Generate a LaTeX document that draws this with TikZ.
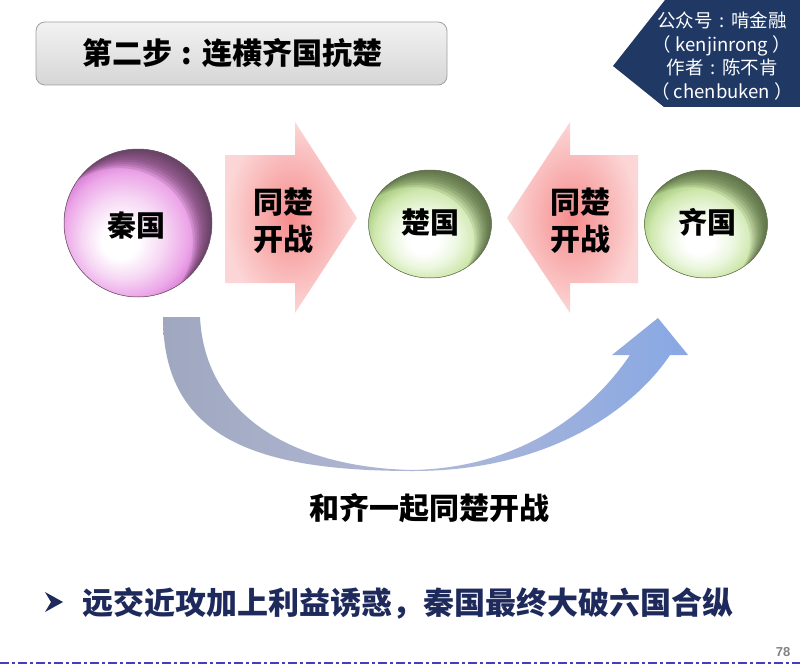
\documentclass[tikz,border=0pt]{standalone}
\usepackage{fontspec}
\usetikzlibrary{shapes.geometric}
\newfontfamily\cjk{Noto Sans CJK SC}
\definecolor{navy}{RGB}{31,56,100}
\definecolor{bulletnavy}{RGB}{31,42,92}
\definecolor{qinA}{RGB}{246,214,244}
\definecolor{qinB}{RGB}{236,166,232}
\definecolor{qinC}{RGB}{216,128,212}
\definecolor{qinD}{RGB}{60,44,56}
\definecolor{grA}{RGB}{234,246,220}
\definecolor{grB}{RGB}{206,231,172}
\definecolor{grC}{RGB}{172,206,134}
\definecolor{grD}{RGB}{56,66,44}
\definecolor{pinkin}{RGB}{245,140,140}
\definecolor{pinkout}{RGB}{252,214,214}
\definecolor{curveL}{RGB}{160,168,192}
\definecolor{curveM}{RGB}{176,184,214}
\definecolor{curveR}{RGB}{136,168,228}
\definecolor{dashblue}{RGB}{64,64,190}
\pgfdeclareradialshading{qinshade}{\pgfpoint{-7bp}{-7bp}}{%
  color(0bp)=(white); color(6bp)=(white); color(14bp)=(qinA);
  color(21bp)=(qinB); color(25bp)=(qinC); color(50bp)=(qinC)}
\pgfdeclareradialshading{greenshade}{\pgfpoint{-3bp}{-9bp}}{%
  color(0bp)=(white); color(6bp)=(white); color(14bp)=(grA);
  color(21bp)=(grB); color(25bp)=(grC); color(50bp)=(grC)}
\tikzset{
  cjktext/.style={font=\cjk\bfseries\fontsize{30}{37}\selectfont, text=black, align=center, inner sep=0pt},
  balltext/.style={cjktext, font=\cjk\bfseries\fontsize{29}{34}\selectfont},
  qinball/.style={circle, minimum size=148pt, shading=qinshade},
  greenball/.style={ellipse, minimum width=123pt, minimum height=108pt, shading=greenshade},
  pinkarrow/.style={shading=radial, inner color=pinkin, outer color=pinkout},
  rimqin/.style={draw={rgb,255:red,110;green,80;blue,105}, line width=0.5pt},
  rimgreen/.style={draw={rgb,255:red,95;green,110;blue,75}, line width=0.5pt},
}
\newcommand{\mycolon}{\makebox[1em][c]{:}}
\begin{document}
\begin{tikzpicture}[x=1pt,y=-1pt]
\useasboundingbox (0,0) rectangle (800,666);
\fill[white] (0,0) rectangle (800,666);

% title box
\node[draw={rgb,255:red,160;green,160;blue,160}, line width=0.8pt, rounded corners=9pt,
      minimum width=411pt, minimum height=63pt,
      top color={rgb,255:red,242;green,242;blue,242}, bottom color={rgb,255:red,214;green,214;blue,214}]
      (titlebox) at (241.5,53.5) {};
\node[cjktext] (title) at (232,53) {第二步\mycolon 连横齐国抗楚};

% badge
\fill[navy] (665,0) -- (800,0) -- (800,107) -- (664,107) -- (613,66) -- cycle;
\node[font=\cjk\fontsize{18.5}{23.5}\selectfont, text=white, align=center, inner sep=0pt] (badge) at (722,56)
  {公众号\mycolon 啃金融\\（ kenjinrong ）\\作者\mycolon 陈不肯\\（ chenbuken ）};

% pink arrows
\shade[pinkarrow] (225,155) -- (295,155) -- (295,122) -- (357,218) -- (295,313) -- (295,283) -- (225,283) -- cycle;
\shade[pinkarrow] (638,155) -- (570,155) -- (570,122) -- (507,218) -- (570,313) -- (570,283) -- (638,283) -- cycle;
\node[cjktext] (war1) at (283,221) {同楚\\开战};
\node[cjktext] (war2) at (580,221) {同楚\\开战};

% spheres
\node[qinball] (qin) at (138,223) {};
\begin{scope}
  \clip (qin.center) circle [radius=74pt];
  \foreach \d in {3,6,...,27} {
    \fill[qinD, opacity=0.12, even odd rule] (qin.center) circle [radius=74pt]
      ([shift={(-0.707*\d,0.707*\d)}]qin.center) circle [radius=74pt];
  }
\end{scope}
\draw[rimqin] (qin.center) circle [radius=74pt];
\node[balltext] (qinlab) at (136,225) {秦国};

\node[greenball] (chu) at (430,224) {};
\node[greenball] (qi) at (706,224) {};
\foreach \b in {chu,qi} {
  \begin{scope}
    \clip (\b.center) ellipse [x radius=61.5pt, y radius=54pt];
    \foreach \d in {3,6,...,24} {
      \fill[grD, opacity=0.11, even odd rule] (\b.center) ellipse [x radius=61.5pt, y radius=54pt]
        ([shift={(-0.707*\d,0.707*\d)}]\b.center) ellipse [x radius=61.5pt, y radius=54pt];
    }
  \end{scope}
  \draw[rimgreen] (\b.center) ellipse [x radius=61.5pt, y radius=54pt];
}
\node[balltext] (chulab) at (430,222) {楚国};
\node[balltext] (qilab) at (707,222) {齐国};

% curved arrow
\coordinate (cstart) at (181,317);
\coordinate (ctip) at (658,318);
\shade[left color=curveL, right color=curveR, middle color=curveM]
  (163,317) .. controls (163,440) and (260,471) .. (413,471)
  .. controls (560,471) and (640,400) .. (670,355)
  -- (688,355) -- (ctip) -- (612,355) -- (630,355)
  .. controls (605,392) and (540,467) .. (413,470)
  .. controls (300,468) and (205,420) .. (200,317) -- cycle;

\node[cjktext] (together) at (429,508) {和齐一起同楚开战};

% bullet
\fill[bulletnavy] (45,592) -- (63,602) -- (45,612) -- (51,602) -- cycle;
\node[font=\cjk\bfseries\fontsize{31}{36}\selectfont, text=bulletnavy, anchor=west, inner sep=0pt] (bullet) at (82,603)
  {远交近攻加上利益诱惑，秦国最终大破六国合纵};

% page number and dashed rule
\node[font=\fontspec{Liberation Sans}\bfseries\fontsize{13}{15}\selectfont, text={rgb,255:red,130;green,130;blue,130}, inner sep=0pt] (pagenum) at (783,652) {78};
\coordinate (ruleL) at (0,663);
\coordinate (ruleR) at (800,663);
\draw[dashblue, line width=2.5pt, dash pattern=on 9pt off 3pt on 3pt off 3pt] (ruleL) -- (ruleR);
\end{tikzpicture}
\end{document}
